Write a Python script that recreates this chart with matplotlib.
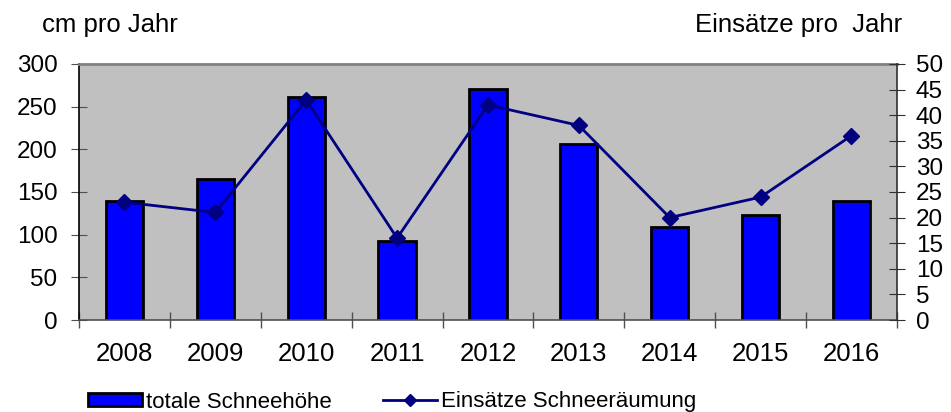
import matplotlib
matplotlib.use("Agg")
from matplotlib import pyplot as plt
from matplotlib.patches import Rectangle
from matplotlib.lines import Line2D

plt.rcParams['font.family'] = ['Liberation Sans', 'DejaVu Sans']

years = ['2008', '2009', '2010', '2011', '2012', '2013', '2014', '2015', '2016']
snow_cm = [140, 165, 261, 92, 271, 206, 109, 123, 139]
einsaetze = [23, 21, 43, 16, 42, 38, 20, 24, 36]

fig = plt.figure(figsize=(9.51, 4.12), dpi=100)
ax = fig.add_axes([0.0831, 0.2233, 0.860, 0.6214])
ax.set_facecolor('#c0c0c0')

x = list(range(len(years)))
ax.bar(x, snow_cm, width=0.41, color='#0000ff', edgecolor='black', linewidth=2, zorder=2)
ax.set_xlim(-0.5, len(years) - 0.5)
ax.set_ylim(0, 300)
ax.set_yticks(range(0, 301, 50))
ax.set_xticks(x)
ax.set_xticklabels(years)
ax.set_xticks([i - 0.5 for i in range(len(years) + 1)], minor=True)
ax.tick_params(axis='x', which='major', length=0, pad=16, labelsize=18.5)
ax.tick_params(axis='x', which='minor', length=11.5, direction='inout', color='#505050', width=1)
ax.tick_params(axis='y', length=11, direction='inout', color='#505050', labelsize=17.5, pad=10)

ax.spines['top'].set_color('#808080')
ax.spines['top'].set_linewidth(2)
ax.spines['left'].set_color('black')
ax.spines['left'].set_linewidth(1.2)
ax.spines['bottom'].set_color('#505050')
ax.spines['bottom'].set_linewidth(1.2)
ax.spines['right'].set_visible(False)

ax2 = ax.twinx()
ax2.plot(x, einsaetze, color='#000080', linewidth=2, marker='D', markersize=8.5, zorder=3)
ax2.set_ylim(0, 50)
ax2.set_yticks(range(0, 51, 5))
ax2.tick_params(axis='y', length=11.5, direction='inout', color='#303030', labelsize=17.5, pad=8)
for s in ['top', 'left', 'bottom']:
    ax2.spines[s].set_visible(False)
ax2.spines['right'].set_color('#303030')
ax2.spines['right'].set_linewidth(1.2)

fig.text(42 / 951, 1 - 25 / 412, 'cm pro Jahr', fontsize=18.5, va='center', ha='left')
fig.text(902 / 951, 1 - 25 / 412, 'Einsätze pro  Jahr', fontsize=18.5, va='center', ha='right')

handles = [Rectangle((0, 0), 1, 1, facecolor='#0000ff', edgecolor='black', linewidth=2),
           Line2D([0], [0], color='#000080', linewidth=2, marker='D', markersize=6)]
fig.legend(handles, ['totale Schneehöhe', 'Einsätze Schneeräumung'],
           loc='center left', bbox_to_anchor=(88 / 951, 1 - 402 / 412), ncol=2,
           frameon=False, fontsize=16, handlelength=2.43, handleheight=0.54,
           handletextpad=0.18, columnspacing=2.3, borderpad=0, borderaxespad=0)

fig.savefig('out.png', dpi=100)
